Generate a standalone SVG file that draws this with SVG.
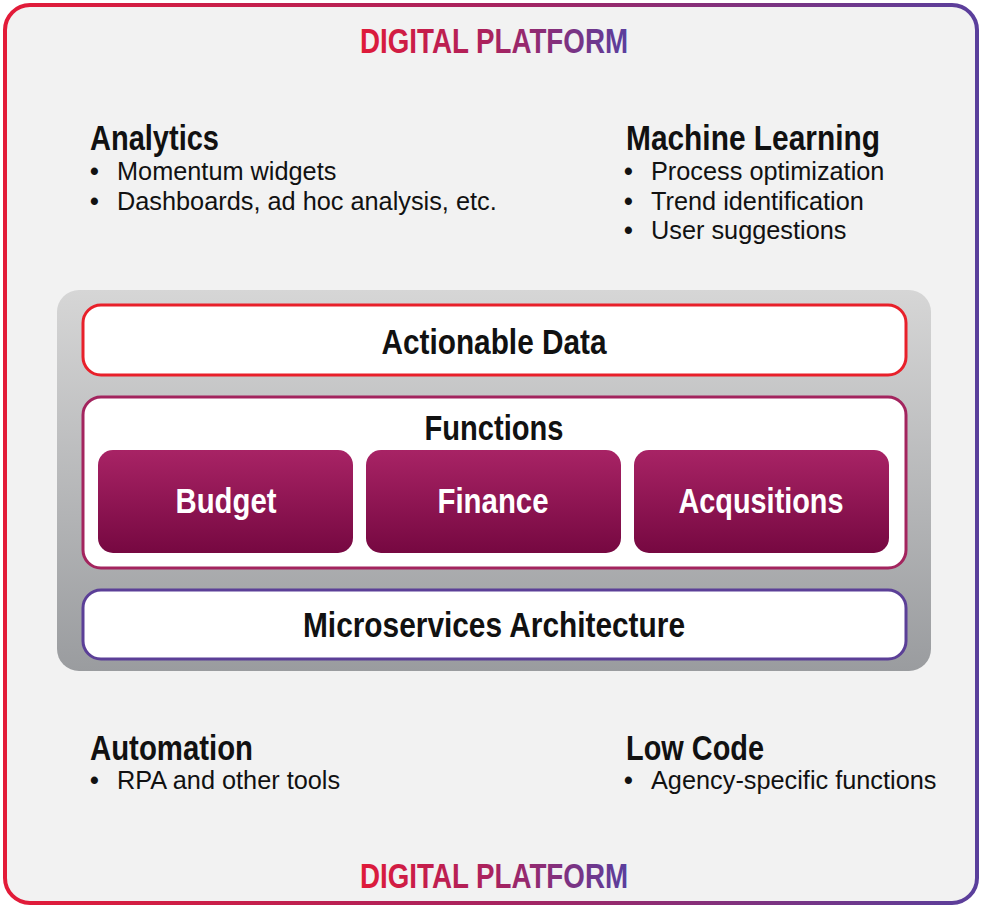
<svg xmlns="http://www.w3.org/2000/svg" width="982" height="907" viewBox="0 0 982 907">
  <defs>
    <linearGradient id="brand" x1="0" y1="0" x2="1" y2="0">
      <stop offset="0" stop-color="#e31b38"/>
      <stop offset="0.5" stop-color="#a8235f"/>
      <stop offset="1" stop-color="#5a3f9c"/>
    </linearGradient>
    <linearGradient id="brandText" gradientUnits="userSpaceOnUse" x1="360" y1="0" x2="628" y2="0">
      <stop offset="0" stop-color="#e01a39"/>
      <stop offset="0.5" stop-color="#a8225f"/>
      <stop offset="1" stop-color="#5a3f9e"/>
    </linearGradient>
    <linearGradient id="panel" x1="0" y1="0" x2="0" y2="1">
      <stop offset="0" stop-color="#d6d6d6"/>
      <stop offset="1" stop-color="#9a9c9f"/>
    </linearGradient>
    <linearGradient id="fn" x1="0" y1="0" x2="0" y2="1">
      <stop offset="0" stop-color="#a82365"/>
      <stop offset="1" stop-color="#760841"/>
    </linearGradient>
    <style>
      .cond { font-family: 'Liberation Sans Narrow', 'Liberation Sans', Arial, sans-serif; }
      .brand { font-size: 35px; font-weight: bold; fill: url(#brandText); text-anchor: middle; }
      .head { font-size: 35px; font-weight: bold; fill: #111; }
      .body { font-family: 'Liberation Sans', Arial, sans-serif; font-size: 25.3px; fill: #111; }
      .dot { font-family: 'Liberation Sans', Arial, sans-serif; font-size: 25px; font-weight: bold; fill: #111; }
      .layer { fill: #ffffff; stroke-width: 3; }
      .lbl { font-size: 35px; font-weight: bold; fill: #111; text-anchor: middle; }
      .fnlbl { font-size: 35px; font-weight: bold; fill: #ffffff; text-anchor: middle; }
    </style>
  </defs>

  <g id="platform">
    <rect x="5" y="5" width="972" height="898" rx="25" ry="25" fill="#f2f2f2" stroke="url(#brand)" stroke-width="4"/>
    <text class="cond brand" x="494" y="53" textLength="268" lengthAdjust="spacingAndGlyphs">DIGITAL PLATFORM</text>
    <text class="cond brand" x="494" y="888" textLength="268" lengthAdjust="spacingAndGlyphs">DIGITAL PLATFORM</text>
  </g>

  <g id="analytics">
    <text class="cond head" x="90" y="150" textLength="129" lengthAdjust="spacingAndGlyphs">Analytics</text>
    <text class="dot" x="90" y="180">•</text>
    <text class="body" x="117" y="180">Momentum widgets</text>
    <text class="dot" x="90" y="210">•</text>
    <text class="body" x="117" y="210">Dashboards, ad hoc analysis, etc.</text>
  </g>

  <g id="machine-learning">
    <text class="cond head" x="626" y="150" textLength="254" lengthAdjust="spacingAndGlyphs">Machine Learning</text>
    <text class="dot" x="624" y="180">•</text>
    <text class="body" x="651" y="180">Process optimization</text>
    <text class="dot" x="624" y="210">•</text>
    <text class="body" x="651" y="210">Trend identification</text>
    <text class="dot" x="624" y="239">•</text>
    <text class="body" x="651" y="239">User suggestions</text>
  </g>

  <g id="automation">
    <text class="cond head" x="90" y="760" textLength="163" lengthAdjust="spacingAndGlyphs">Automation</text>
    <text class="dot" x="90" y="789">•</text>
    <text class="body" x="117" y="789">RPA and other tools</text>
  </g>

  <g id="low-code">
    <text class="cond head" x="626" y="760" textLength="138" lengthAdjust="spacingAndGlyphs">Low Code</text>
    <text class="dot" x="624" y="789">•</text>
    <text class="body" x="651" y="789">Agency-specific functions</text>
  </g>

  <g id="stack">
    <rect x="57" y="290" width="874" height="381" rx="22" ry="22" fill="url(#panel)"/>
  </g>

  <g id="actionable-data">
    <rect class="layer" x="83" y="305" width="823" height="70" rx="18" ry="18" stroke="#e8202a"/>
    <text class="cond lbl" x="494" y="354" textLength="225" lengthAdjust="spacingAndGlyphs">Actionable Data</text>
  </g>

  <g id="functions">
    <rect class="layer" x="83" y="397" width="823" height="171" rx="18" ry="18" stroke="#a3245e"/>
    <text class="cond lbl" x="494" y="440" textLength="139" lengthAdjust="spacingAndGlyphs">Functions</text>
  </g>

  <g id="budget">
    <rect x="98" y="450" width="255" height="103" rx="15" ry="15" fill="url(#fn)"/>
    <text class="cond fnlbl" x="226" y="513" textLength="101" lengthAdjust="spacingAndGlyphs">Budget</text>
  </g>

  <g id="finance">
    <rect x="366" y="450" width="255" height="103" rx="15" ry="15" fill="url(#fn)"/>
    <text class="cond fnlbl" x="493" y="513" textLength="111" lengthAdjust="spacingAndGlyphs">Finance</text>
  </g>

  <g id="acquisitions">
    <rect x="634" y="450" width="255" height="103" rx="15" ry="15" fill="url(#fn)"/>
    <text class="cond fnlbl" x="761" y="513" textLength="165" lengthAdjust="spacingAndGlyphs">Acqusitions</text>
  </g>

  <g id="microservices">
    <rect class="layer" x="83" y="590" width="823" height="69" rx="18" ry="18" stroke="#5b3f97"/>
    <text class="cond lbl" x="494" y="637" textLength="382" lengthAdjust="spacingAndGlyphs">Microservices Architecture</text>
  </g>

  <g id="connectors"/>
</svg>
